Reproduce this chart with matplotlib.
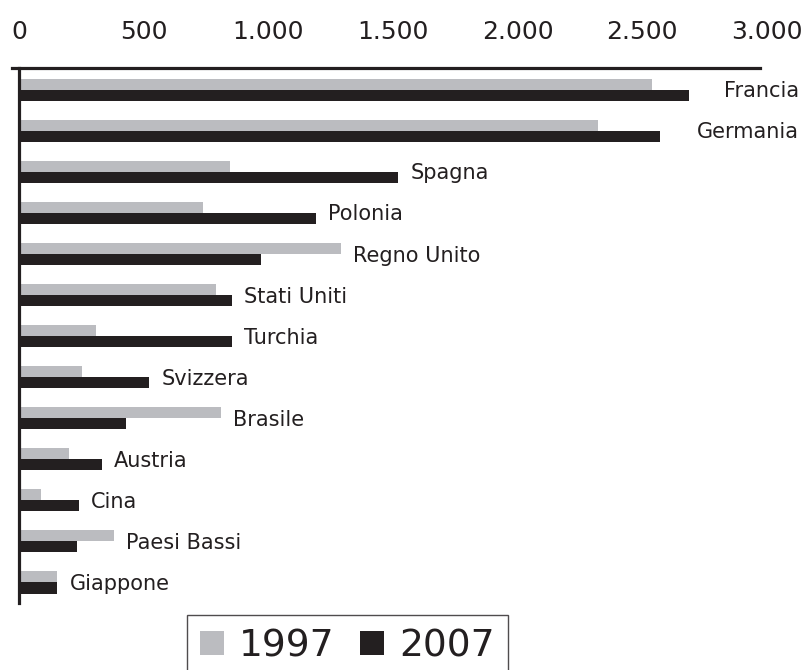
import matplotlib
matplotlib.use('Agg')
import matplotlib.pyplot as plt
from matplotlib.lines import Line2D

# ---- data ----
countries = ['Francia', 'Germania', 'Spagna', 'Polonia', 'Regno Unito', 'Stati Uniti',
             'Turchia', 'Svizzera', 'Brasile', 'Austria', 'Cina', 'Paesi Bassi', 'Giappone']
v1997 = [2540, 2324, 847, 737, 1291, 789, 308, 252, 809, 199, 87, 380, 151]
v2007 = [2689, 2572, 1520, 1191, 970, 854, 854, 520, 428, 332, 240, 232, 154]
years = ['1997', '2007']
xticks = [0, 500, 1000, 1500, 2000, 2500, 3000]
xtick_labels = ['0', '500', '1.000', '1.500', '2.000', '2.500', '3.000']

# ---- style ----
C_1997, C_2007, INK = '#bbbcc0', '#231f20', '#231f20'
BAR_H = 0.27
label_pad = [25, 26] + [9] * 11     # points right of the longer bar

plt.rcParams['font.family'] = ['DejaVu Sans']
fig = plt.figure(figsize=(8.06, 6.70), dpi=100)
ax = fig.add_axes([19 / 806, 1 - 603 / 670, 748 / 806, 535.5 / 670])

y = list(range(len(countries)))
ax.barh([i - BAR_H / 2 for i in y], v1997, height=BAR_H, color=C_1997, linewidth=0)
ax.barh([i + BAR_H / 2 for i in y], v2007, height=BAR_H, color=C_2007, linewidth=0)

for i, name in enumerate(countries):
    ax.annotate(name, xy=(max(v1997[i], v2007[i]), i + 0.185), xytext=(label_pad[i], 0),
                textcoords='offset points', va='baseline', ha='left',
                fontsize=15, color=INK)

ax.set_xlim(0, 3000)
ax.set_ylim(12.5, -0.54)
ax.xaxis.tick_top()
ax.set_xticks(xticks)
ax.set_xticklabels(xtick_labels, fontsize=18, color=INK)
ax.tick_params(axis='x', length=0, pad=17)
ax.set_yticks([])

for s in ('right', 'bottom'):
    ax.spines[s].set_visible(False)
for s in ('top', 'left'):
    ax.spines[s].set_linewidth(2.3)
    ax.spines[s].set_color(INK)
ax.spines['top'].set_bounds(-30, 2972)

handles = [Line2D([], [], ls='none', marker='s', markersize=17.5, markeredgewidth=0,
                  markerfacecolor=c) for c in (C_1997, C_2007)]
leg = fig.legend(handles, years, loc='upper left', bbox_to_anchor=(187 / 806, 1 - 615 / 670),
                 ncol=2, fontsize=27, frameon=True, fancybox=False, borderpad=0.35,
                 handlelength=0.64, handletextpad=0.4, columnspacing=0.67,
                 borderaxespad=0)
leg.get_frame().set_edgecolor(INK)
leg.get_frame().set_linewidth(1.0)
for t in leg.get_texts():
    t.set_color(INK)

fig.savefig('out.png', dpi=100)
